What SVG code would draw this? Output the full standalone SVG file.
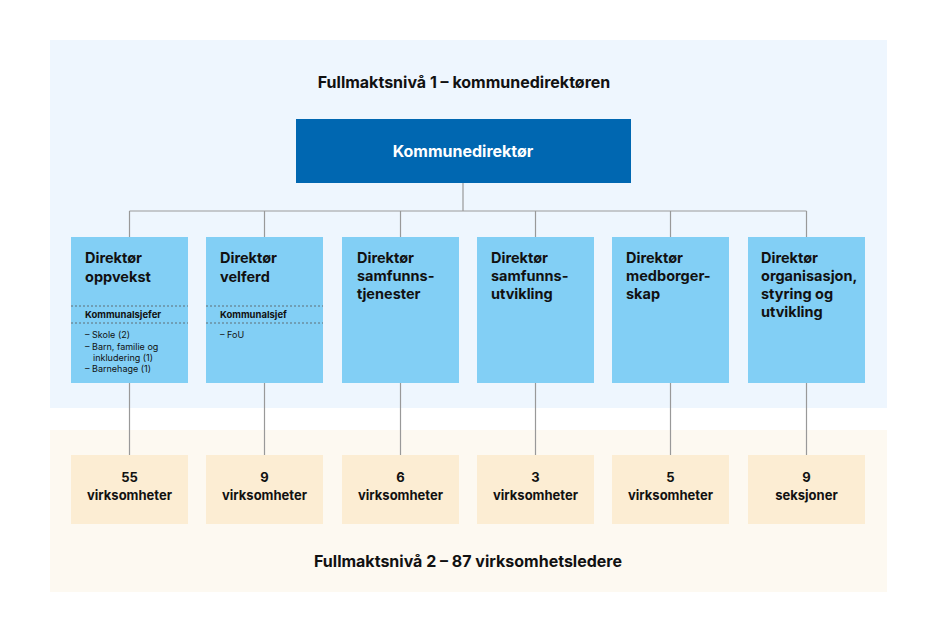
<svg xmlns="http://www.w3.org/2000/svg" width="945" height="634" viewBox="0 0 945 634">
<style>
text{font-family:Inter,"Liberation Sans",sans-serif;fill:#111;}
.h{font-size:16px;font-weight:700}
.t{font-size:14.5px;font-weight:700}
.s{font-size:9.5px;font-weight:700}
.x{font-size:9px}
.d{fill:#82cff5}
.b{fill:#fcedd3}
.c{stroke:#999;stroke-width:1.2;fill:none}
.dot{stroke:#555;stroke-width:0.8;stroke-dasharray:2 2}
.n{font-size:13px;font-weight:700;text-anchor:middle}
</style>
<rect width="945" height="634" fill="#fff"/>
<rect x="50" y="40" width="837" height="368" fill="#eef6fe"/>
<rect x="50" y="430" width="837" height="162" fill="#fdf9f1"/>
<text class="h" x="464" y="88" text-anchor="middle">Fullmaktsnivå 1 – kommunedirektøren</text>
<text class="h" x="468" y="567" text-anchor="middle">Fullmaktsnivå 2 – 87 virksomhetsledere</text>
<g id="connectors" class="c">
<path d="M463 183V211M129.5 211H806.5"/>
<path d="M129.5 211V237M264.5 211V237M400.5 211V237M535.5 211V237M670.5 211V237M806.5 211V237"/>
<path d="M129.5 383V455M264.5 383V455M400.5 383V455M535.5 383V455M670.5 383V455M806.5 383V455"/>
</g>
<g id="top"><rect x="296" y="119" width="335" height="64" fill="#0067b1"/><text x="463" y="157" text-anchor="middle" style="fill:#fff;font-size:16px;font-weight:700">Kommunedirektør</text></g>
<g id="d1"><rect class="d" x="71" y="237" width="117" height="146"/>
<text class="t" x="85" y="263">Direktør</text><text class="t" x="85" y="282">oppvekst</text>
<line class="dot" x1="71" y1="306" x2="188" y2="306"/><line class="dot" x1="71" y1="323" x2="188" y2="323"/>
<text class="s" x="85" y="318">Kommunalsjefer</text>
<text class="x" x="85" y="338">– Skole (2)</text><text class="x" x="85" y="350">– Barn, familie og</text><text class="x" x="93" y="361">inkludering (1)</text><text class="x" x="85" y="372">– Barnehage (1)</text></g>
<g id="d2"><rect class="d" x="206" y="237" width="117" height="146"/>
<text class="t" x="220" y="263">Direktør</text><text class="t" x="220" y="282">velferd</text>
<line class="dot" x1="206" y1="306" x2="323" y2="306"/><line class="dot" x1="206" y1="323" x2="323" y2="323"/>
<text class="s" x="220" y="318">Kommunalsjef</text><text class="x" x="220" y="338">– FoU</text></g>
<g id="d3"><rect class="d" x="342" y="237" width="117" height="146"/>
<text class="t" x="357" y="263">Direktør</text><text class="t" x="357" y="281">samfunns-</text><text class="t" x="357" y="299">tjenester</text></g>
<g id="d4"><rect class="d" x="477" y="237" width="117" height="146"/>
<text class="t" x="491" y="263">Direktør</text><text class="t" x="491" y="281">samfunns-</text><text class="t" x="491" y="299">utvikling</text></g>
<g id="d5"><rect class="d" x="612" y="237" width="117" height="146"/>
<text class="t" x="626" y="263">Direktør</text><text class="t" x="626" y="281">medborger-</text><text class="t" x="626" y="299">skap</text></g>
<g id="d6"><rect class="d" x="748" y="237" width="117" height="146"/>
<text class="t" x="761" y="263">Direktør</text><text class="t" x="761" y="281">organisasjon,</text><text class="t" x="761" y="299">styring og</text><text class="t" x="761" y="317">utvikling</text></g>
<g id="b1"><rect class="b" x="71" y="455" width="117" height="69"/><text class="n" x="129.5" y="482">55</text><text class="n" x="129.5" y="500">virksomheter</text></g>
<g id="b2"><rect class="b" x="206" y="455" width="117" height="69"/><text class="n" x="264.5" y="482">9</text><text class="n" x="264.5" y="500">virksomheter</text></g>
<g id="b3"><rect class="b" x="342" y="455" width="117" height="69"/><text class="n" x="400.5" y="482">6</text><text class="n" x="400.5" y="500">virksomheter</text></g>
<g id="b4"><rect class="b" x="477" y="455" width="117" height="69"/><text class="n" x="535.5" y="482">3</text><text class="n" x="535.5" y="500">virksomheter</text></g>
<g id="b5"><rect class="b" x="612" y="455" width="117" height="69"/><text class="n" x="670.5" y="482">5</text><text class="n" x="670.5" y="500">virksomheter</text></g>
<g id="b6"><rect class="b" x="748" y="455" width="117" height="69"/><text class="n" x="806.5" y="482">9</text><text class="n" x="806.5" y="500">seksjoner</text></g>
</svg>
